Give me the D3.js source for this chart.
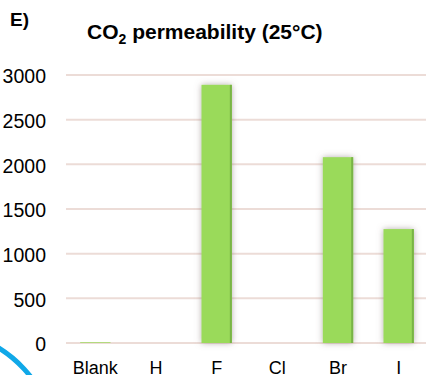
<!DOCTYPE html>
<html>
<head>
<meta charset="utf-8">
<script src="https://cdn.jsdelivr.net/npm/d3@7"></script>
<style>
html,body{margin:0;padding:0;background:#fff;overflow:hidden;}
text{font-family:"Liberation Sans",Arial,sans-serif;}
</style>
</head>
<body>
<svg id="chart" width="426" height="375"></svg>
<script>
const categories = ["Blank","H","F","Cl","Br","I"];
const values = [8, 0, 2890, 0, 2080, 1275];
const yTicks = [0,500,1000,1500,2000,2500,3000];

const svg = d3.select("#chart");
const x = d3.scaleBand().domain(categories).range([65,429]).paddingInner(0.5).paddingOuter(0.25);
const y = d3.scaleLinear().domain([0,3000]).range([343,75]);

const defs = svg.append("defs");
const f = defs.append("filter").attr("id","sh").attr("x","-40%").attr("y","-10%").attr("width","180%").attr("height","120%");
f.append("feDropShadow").attr("dx",0).attr("dy",0).attr("stdDeviation",3).attr("flood-color","#7a6a66").attr("flood-opacity",0.55);

// gridlines
svg.append("g").selectAll("line").data(yTicks).join("line")
  .attr("x1",66).attr("x2",426)
  .attr("y1",d=>y(d)).attr("y2",d=>y(d))
  .attr("stroke","#ecdcd7").attr("stroke-width",2);

// y axis labels
const yAxis = d3.axisLeft(y).tickValues(yTicks).tickSize(0).tickPadding(0).tickFormat(d3.format("d"));
const yg = svg.append("g").attr("transform","translate(46,0)").call(yAxis);
yg.select(".domain").remove();
yg.selectAll("text").attr("font-size","19.5px").attr("fill","#000").attr("font-family","Liberation Sans, Arial, sans-serif").attr("dy","0.4em");

// bars
const bars = svg.append("g");
bars.selectAll("rect.bar").data(values).join("rect").attr("class","bar")
  .attr("x",(d,i)=>x(categories[i]))
  .attr("y",d=>y(d))
  .attr("width",x.bandwidth())
  .attr("height",d=>y(0)-y(d))
  .attr("fill","#9ada5a")
  .attr("filter",d=>d>50?"url(#sh)":null);
bars.selectAll("rect.edge").data(values).join("rect").attr("class","edge")
  .attr("x",(d,i)=>x(categories[i])+x.bandwidth()-2)
  .attr("y",d=>y(d))
  .attr("width",d=>d>50?2:0)
  .attr("height",d=>y(0)-y(d))
  .attr("fill","#79b446");

// x axis labels
const xAxis = d3.axisBottom(x).tickSize(0).tickPadding(0);
const xg = svg.append("g").attr("transform","translate(0,374)").call(xAxis);
xg.select(".domain").remove();
xg.selectAll("text").attr("font-size","18px").attr("fill","#000").attr("font-family","Liberation Sans, Arial, sans-serif").attr("dy","0");

// title
const t = svg.append("text").attr("x",87).attr("y",39).attr("font-size","21px").attr("font-weight","bold").attr("fill","#000");
t.append("tspan").text("CO");
t.append("tspan").attr("font-size","14px").attr("dy",5).text("2");
t.append("tspan").attr("dy",-5).text(" permeability (25°C)");

svg.append("text").attr("x",10).attr("y",26).attr("font-size","19px").attr("font-weight","bold").text("E)");

// decorative blue arc
const arc = d3.arc().innerRadius(120).outerRadius(125).startAngle(0.45).endAngle(1.2);
svg.append("path").attr("d",arc()).attr("transform","translate(-66,452)").attr("fill","#10a8e8");
</script>
</body>
</html>
